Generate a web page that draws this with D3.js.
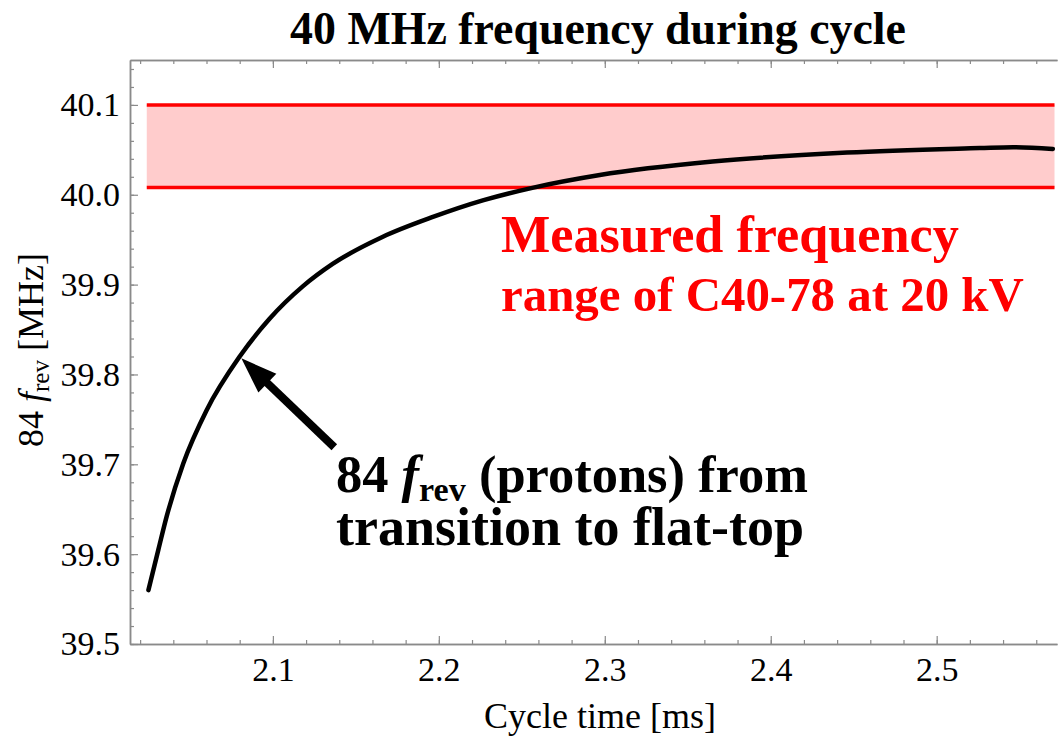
<!DOCTYPE html>
<html>
<head>
<meta charset="utf-8" />
<title>40 MHz frequency during cycle</title>
<script src="https://d3js.org/d3.v7.min.js"></script>
<style>
  body { margin: 0; background: #fff; }
  svg { display: block; }
</style>
</head>
<body>
<script>
// 84 f_rev curve
const cycleTime = [2.025, 2.031, 2.036, 2.046, 2.060, 2.080, 2.098, 2.118, 2.136, 2.166, 2.196,
                   2.227, 2.257, 2.297, 2.365, 2.446, 2.526, 2.546, 2.570];
const freq84 = [39.560, 39.605, 39.642, 39.701, 39.760, 39.820, 39.862, 39.898, 39.923, 39.953, 39.975,
                39.994, 40.008, 40.022, 40.037, 40.047, 40.052, 40.053, 40.051];

// measured range of the cavity (red band)
const bandFreq = [40.008, 40.1];
const bandTime = [2.024, 2.571];

// arrow annotation (data coords)
const arrowTip = [2.081, 39.818];
const arrowTail = [2.137, 39.719];

const xTicks = [2.1, 2.2, 2.3, 2.4, 2.5];
const yTicks = [39.5, 39.6, 39.7, 39.8, 39.9, 40.0, 40.1];
const xMinor = d3.range(2.02, 2.58, 0.02);
const yMinor = d3.range(39.5, 40.15, 0.02);

var margin = { top: 60, right: 2, bottom: 95, left: 130 };
const width = 1059 - margin.left - margin.right;
const height = 739 - margin.top - margin.bottom;

const svg = d3.select("body").append("svg")
  .attr("width", 1059)
  .attr("height", 739);

const g = svg.append("g")
  .attr("transform", `translate(${margin.left},${margin.top})`);

const x = d3.scaleLinear().domain([2.0139, 2.5725]).range([0, width]);
const y = d3.scaleLinear().domain([39.5, 40.15]).range([height, 0]);

// band
g.append("rect")
  .attr("x", x(bandTime[0]))
  .attr("y", y(bandFreq[1]))
  .attr("width", x(bandTime[1]) - x(bandTime[0]))
  .attr("height", y(bandFreq[0]) - y(bandFreq[1]))
  .attr("fill", "#ffcccc");

bandFreq.forEach(function(f) {
  g.append("line")
    .attr("x1", x(bandTime[0])).attr("x2", x(bandTime[1]))
    .attr("y1", y(f)).attr("y2", y(f))
    .attr("stroke", "#ff0000")
    .attr("stroke-width", 3.5);
});

// frame + ticks (inward, mathematica style)
const tickColor = "#8a8a8a";
const serif = "'Liberation Serif', serif";
function styleAxis(sel) {
  sel.style("font-family", serif).style("font-size", "34px");
  sel.selectAll("path").attr("stroke", tickColor).attr("stroke-width", 1.5);
  sel.selectAll("line").attr("stroke", tickColor).attr("stroke-width", 1.2);
  sel.selectAll("text")
    .style("font-family", serif)
    .style("font-size", "34px")
    .attr("fill", "#000");
}

g.append("g").attr("transform", `translate(0,${height})`)
  .call(d3.axisBottom(x).tickValues(xMinor).tickSizeInner(-4).tickSizeOuter(0).tickFormat(""))
  .call(styleAxis);
g.append("g").attr("transform", `translate(0,${height})`)
  .call(d3.axisBottom(x).tickValues(xTicks).tickSizeInner(-8).tickSizeOuter(0).tickPadding(13)
    .tickFormat(d3.format(".1f")))
  .call(styleAxis);

g.append("g")
  .call(d3.axisTop(x).tickValues(xMinor).tickSizeInner(-4).tickSizeOuter(0).tickFormat(""))
  .call(styleAxis);
g.append("g")
  .call(d3.axisTop(x).tickValues(xTicks).tickSizeInner(-8).tickSizeOuter(0).tickFormat(""))
  .call(styleAxis);

g.append("g")
  .call(d3.axisLeft(y).tickValues(yMinor).tickSizeInner(-4).tickSizeOuter(0).tickFormat(""))
  .call(styleAxis);
g.append("g")
  .call(d3.axisLeft(y).tickValues(yTicks).tickSizeInner(-8).tickSizeOuter(0).tickPadding(10)
    .tickFormat(d3.format(".1f")))
  .call(styleAxis);

// curve
const pts = cycleTime.map((t, i) => [t, freq84[i]]);
g.append("path")
  .datum(pts)
  .attr("fill", "none")
  .attr("stroke", "#000")
  .attr("stroke-width", 4.5)
  .attr("stroke-linecap", "round")
  .attr("d", d3.line().x(d => x(d[0])).y(d => y(d[1])).curve(d3.curveMonotoneX));

// arrow
const tip = [x(arrowTip[0]), y(arrowTip[1])];
const tail = [x(arrowTail[0]), y(arrowTail[1])];
const dx = tip[0] - tail[0], dy = tip[1] - tail[1];
const len = Math.hypot(dx, dy);
const ux = dx / len, uy = dy / len;
const headLen = 36, headHalf = 13;
const base = [tip[0] - ux * headLen, tip[1] - uy * headLen];
g.append("line")
  .attr("x1", tail[0]).attr("y1", tail[1])
  .attr("x2", base[0] + ux * 4).attr("y2", base[1] + uy * 4)
  .attr("stroke", "#000").attr("stroke-width", 8);
g.append("polygon")
  .attr("points", [
    tip,
    [base[0] - uy * headHalf, base[1] + ux * headHalf],
    [base[0] + uy * headHalf, base[1] - ux * headHalf]
  ].map(p => p.join(",")).join(" "))
  .attr("fill", "#000");

// text helpers
const boldFont = "'Liberation Serif', serif";
function fitWidth(sel, target) {
  const fs = parseFloat(sel.attr("font-size"));
  const w = sel.node().getComputedTextLength();
  sel.attr("font-size", fs * target / w);
  return sel;
}

// title
svg.append("text")
  .attr("x", 598).attr("y", 44)
  .attr("text-anchor", "middle")
  .attr("font-family", boldFont)
  .attr("font-weight", "bold")
  .attr("font-size", 40)
  .text("40 MHz frequency during cycle")
  .call(fitWidth, 616);

// x label
svg.append("text")
  .attr("x", 600).attr("y", 728)
  .attr("text-anchor", "middle")
  .attr("font-family", serif)
  .attr("font-size", 36)
  .text("Cycle time [ms]");

// y label
const yl = svg.append("text")
  .attr("transform", "translate(43,350) rotate(-90)")
  .attr("text-anchor", "middle")
  .attr("font-family", serif)
  .attr("font-size", 36);
yl.append("tspan").text("84 ");
yl.append("tspan").attr("font-style", "italic").text("f");
yl.append("tspan").attr("font-size", "0.7em").attr("dy", "0.22em").text("rev");
yl.append("tspan").attr("dy", "-0.154em").text(" [MHz]");

// red annotation
const redLines = ["Measured frequency", "range of C40-78 at 20 kV"];
const redY = [252, 311];
const redW = [458, 523];
redLines.forEach(function(s, i) {
  svg.append("text")
    .attr("x", 501).attr("y", redY[i])
    .attr("font-family", boldFont)
    .attr("font-weight", "bold")
    .attr("font-size", 46)
    .attr("fill", "#ff0000")
    .text(s)
    .call(fitWidth, redW[i]);
});

// black annotation
const l1 = svg.append("text")
  .attr("x", 336).attr("y", 492)
  .attr("font-family", boldFont)
  .attr("font-weight", "bold")
  .attr("font-size", 46);
l1.append("tspan").text("84 ");
l1.append("tspan").attr("font-style", "italic").text("f");
l1.append("tspan").attr("font-size", "0.65em").attr("dy", "0.25em").text("rev");
l1.append("tspan").attr("dy", "-0.1625em").text(" (protons) from");
fitWidth(l1, 472);

svg.append("text")
  .attr("x", 336).attr("y", 545)
  .attr("font-family", boldFont)
  .attr("font-weight", "bold")
  .attr("font-size", 46)
  .text("transition to flat-top")
  .call(fitWidth, 468);
</script>
</body>
</html>
